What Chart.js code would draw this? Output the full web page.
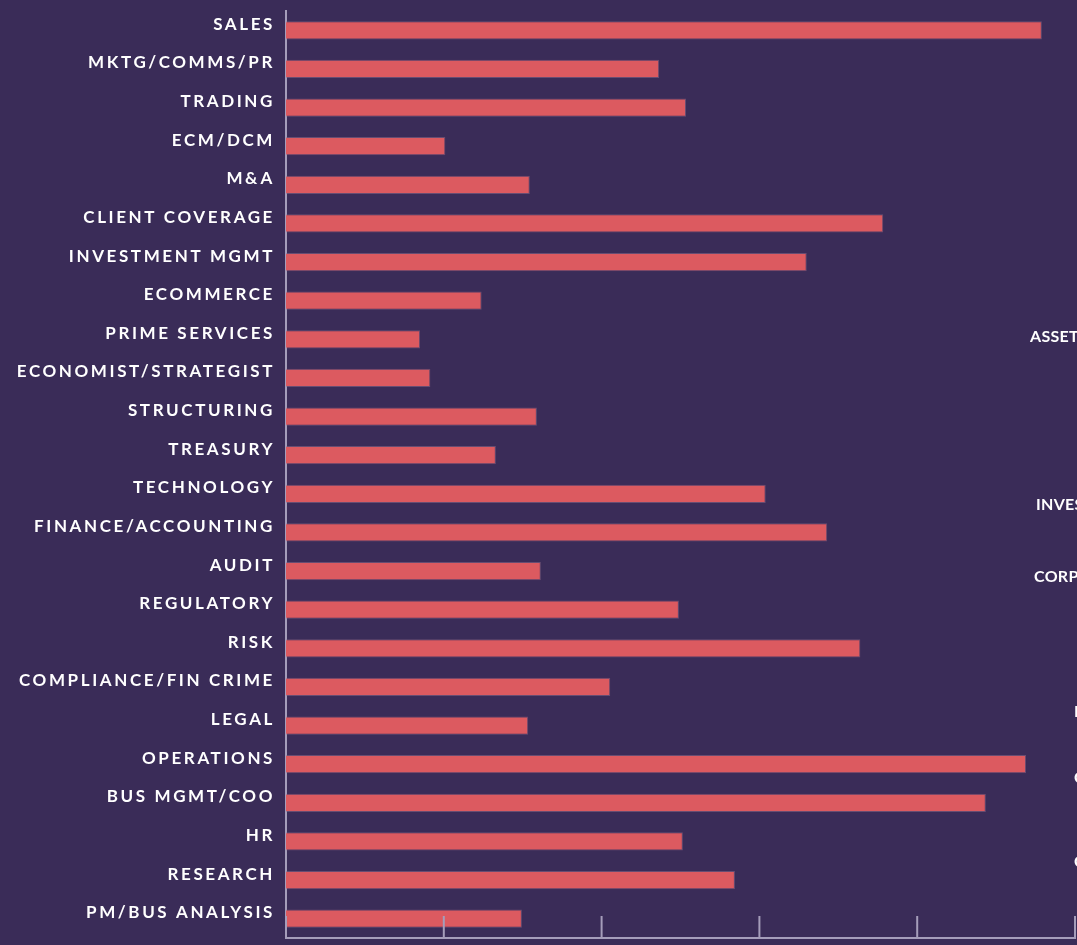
<!DOCTYPE html>
<html>
<head>
<meta charset="utf-8">
<script src="https://cdn.jsdelivr.net/npm/chart.js@4.4.1/dist/chart.umd.min.js"></script>
<style>
  html, body { margin:0; padding:0; background:#3a2c58; overflow:hidden; }
  #wrap { position:relative; width:1077px; height:945px; }
  .side { position:absolute; color:#fff; font:700 16px Lato, sans-serif; letter-spacing:0.3px; white-space:nowrap; }
</style>
</head>
<body>
<div id="wrap">
  <canvas id="chart" width="1077" height="945"></canvas>
</div>
<script>
  // functions, top to bottom
  const categories = [
    'SALES','MKTG/COMMS/PR','TRADING','ECM/DCM','M&A','CLIENT COVERAGE','INVESTMENT MGMT',
    'ECOMMERCE','PRIME SERVICES','ECONOMIST/STRATEGIST','STRUCTURING','TREASURY','TECHNOLOGY',
    'FINANCE/ACCOUNTING','AUDIT','REGULATORY','RISK','COMPLIANCE/FIN CRIME','LEGAL',
    'OPERATIONS','BUS MGMT/COO','HR','RESEARCH','PM/BUS ANALYSIS'
  ];
  const values = [
    95.8, 47.3, 50.7, 20.2, 30.9, 75.7, 66.0,
    24.8, 17.0, 18.3, 31.8, 26.6, 60.8,
    68.6, 32.3, 49.8, 72.8, 41.1, 30.7,
    93.8, 88.7, 50.3, 56.9, 29.9
  ];
  const xTicks = [0, 20, 40, 60, 80, 100];

  // cut-off labels from the neighbouring panel
  const sideLabels = [
    { text:'ASSET MANAGEMENT',   x:1030, y:326 },
    { text:'INVESTMENT BANKING', x:1036, y:494 },
    { text:'CORPORATE BANKING',  x:1034, y:566 },
    { text:'INSURANCE',          x:1074, y:701 },
    { text:'CONSULTING',         x:1074, y:767 },
    { text:'CRYPTO',             x:1074, y:851 },
  ];
  const wrap = document.getElementById('wrap');
  sideLabels.forEach(s => {
    const el = document.createElement('div');
    el.className = 'side';
    el.textContent = s.text;
    el.style.left = s.x + 'px';
    el.style.top  = s.y + 'px';
    wrap.appendChild(el);
  });

  const AXIS = '#a59dba';

  // wide spaced label lettering
  const spacing = {
    id: 'spacing',
    beforeDraw(chart) { chart.ctx.letterSpacing = '2.6px'; }
  };

  // short tick marks rising from the bottom axis
  const tickMarks = {
    id: 'tickMarks',
    afterDraw(chart) {
      const { ctx, chartArea, scales } = chart;
      ctx.save();
      ctx.strokeStyle = AXIS;
      ctx.lineWidth = 2;
      xTicks.forEach(v => {
        const x = scales.x.getPixelForValue(v);
        ctx.beginPath();
        ctx.moveTo(x, chartArea.bottom);
        ctx.lineTo(x, chartArea.bottom - 22);
        ctx.stroke();
      });
      ctx.restore();
    }
  };

  const chart = new Chart(document.getElementById('chart'), {
    type: 'bar',
    data: {
      labels: categories,
      datasets: [{
        data: values,
        backgroundColor: '#dc5a60',
        borderColor: 'rgba(150,110,140,0.5)',
        borderWidth: 1,
        borderSkipped: 'start',
        barPercentage: 1,
        categoryPercentage: 0.47,
      }]
    },
    options: {
      indexAxis: 'y',
      responsive: false,
      animation: false,
      devicePixelRatio: 1,
      layout: { padding: { top: 11, right: 2, bottom: 6, left: 0 } },
      plugins: { legend:{ display:false }, tooltip:{ enabled:false } },
      scales: {
        x: {
          min: 0, max: 100,
          afterFit: s => { s.height = 1; s.paddingLeft = 0; s.paddingRight = 0; },
          ticks: { display:false, stepSize:20 },
          grid: { display:false, drawTicks:false },
          border: { display:true, color:AXIS, width:2 },
        },
        y: {
          afterFit: s => { s.width = 286; s.paddingTop = 0; s.paddingBottom = 0; },
          ticks: {
            color:'#ffffff',
            padding: 11,
            labelOffset: -6,
            font: { family:'Lato', weight:'bold', size:17 },
          },
          grid: { display:false, drawTicks:false },
          border: { display:true, color:AXIS, width:2 },
        }
      }
    },
    plugins: [spacing, tickMarks]
  });
</script>
</body>
</html>
